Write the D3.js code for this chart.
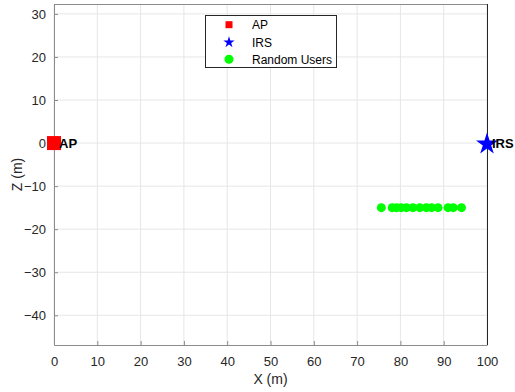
<!DOCTYPE html>
<html>
<head>
<meta charset="utf-8">
<script src="https://cdn.jsdelivr.net/npm/d3@7"></script>
<style>
  body { margin: 0; background: #fff; }
  svg { display: block; font-family: "Liberation Sans", Arial, sans-serif; }
</style>
</head>
<body>
<svg id="chart" width="515" height="392"></svg>
<script>
// Access point and intelligent reflecting surface positions (X, Z in metres)
const apPos = [0, 0];
const irsPos = [100, 0];
// Random user positions along the X axis, all at Z = -15 m
const userX = [75.6, 78.1, 79.1, 80.2, 81.4, 82.9, 84.5, 86.0, 87.2, 88.7, 91.0, 92.2, 94.1];
const userZ = [-15, -15, -15, -15, -15, -15, -15, -15, -15, -15, -15, -15, -15];
const xTicks = [0, 10, 20, 30, 40, 50, 60, 70, 80, 90, 100];
const zTicks = [-40, -30, -20, -10, 0, 10, 20, 30];
const xDomain = [0, 100];
const zDomain = [-46.9, 32.3];
const legendItems = ["AP", "IRS", "Random Users"];

const svg = d3.select("#chart");
const mLeft = 54, mRight = 487, mTop = 4, mBottom = 345;

const x = d3.scaleLinear().domain(xDomain).range([mLeft, mRight]);
const y = d3.scaleLinear().domain(zDomain).range([mBottom, mTop]);

const axisColor = "#262626";
const grid = svg.append("g");
grid.selectAll("line.gx").data(xTicks).join("line")
  .attr("x1", d => x(d)).attr("x2", d => x(d))
  .attr("y1", mTop).attr("y2", mBottom)
  .attr("stroke", "#e6e6e6").attr("stroke-width", 1);
grid.selectAll("line.gy").data(zTicks).join("line")
  .attr("x1", mLeft).attr("x2", mRight)
  .attr("y1", d => y(d)).attr("y2", d => y(d))
  .attr("stroke", "#e6e6e6").attr("stroke-width", 1);

// Axes with inward ticks
const xAxis = svg.append("g").attr("transform", `translate(0,${mBottom})`)
  .call(d3.axisBottom(x).tickValues(xTicks).tickSizeInner(-4).tickSizeOuter(0).tickPadding(12));
const yAxis = svg.append("g").attr("transform", `translate(${mLeft},0)`)
  .call(d3.axisLeft(y).tickValues(zTicks).tickSizeInner(-4).tickSizeOuter(0).tickPadding(8));
[xAxis, yAxis].forEach(a => {
  a.select(".domain").attr("stroke", "#8c8c8c");
  a.selectAll(".tick line").attr("stroke", "#8c8c8c");
  a.selectAll(".tick text").attr("fill", axisColor).attr("font-size", 13)
    .attr("font-family", "Liberation Sans, Arial, sans-serif");
});

// Top and right frame lines
svg.append("line").attr("x1", mLeft).attr("x2", mRight).attr("y1", mTop + 0.5).attr("y2", mTop + 0.5)
  .attr("stroke", "#8c8c8c");
svg.append("line").attr("x1", mRight + 0.5).attr("x2", mRight + 0.5).attr("y1", mTop).attr("y2", mBottom)
  .attr("stroke", "#262626");

// Axis labels
svg.append("text").attr("x", (mLeft + mRight) / 2).attr("y", 384)
  .attr("text-anchor", "middle").attr("font-size", 14).attr("fill", axisColor).text("X (m)");
svg.append("text").attr("transform", `translate(22,${(mTop + mBottom) / 2}) rotate(-90)`)
  .attr("text-anchor", "middle").attr("font-size", 14).attr("fill", axisColor).text("Z (m)");

// Random users
svg.append("g").selectAll("circle").data(userX.map((d, i) => [d, userZ[i]])).join("circle")
  .attr("cx", d => x(d[0])).attr("cy", d => y(d[1])).attr("r", 4.5)
  .attr("fill", "#00ff00");

// AP marker and label
const sq = 14;
svg.append("rect").attr("x", x(apPos[0]) - sq / 2).attr("y", y(apPos[1]) - sq / 2)
  .attr("width", sq).attr("height", sq).attr("fill", "#ff0000");
svg.append("text").attr("x", x(apPos[0]) + 5).attr("y", y(apPos[1]) + 5)
  .attr("font-size", 13).attr("font-weight", "bold").attr("fill", "#000").text("AP");

// IRS marker and label
const star = d3.symbol().type(d3.symbolStar).size(150);
svg.append("path").attr("d", star())
  .attr("transform", `translate(${x(irsPos[0])},${y(irsPos[1]) + 1})`).attr("fill", "#0000ff");
svg.append("text").attr("x", x(irsPos[0]) + 5).attr("y", y(irsPos[1]) + 5)
  .attr("font-size", 13).attr("font-weight", "bold").attr("fill", "#000").text("IRS");

// Legend
const lg = svg.append("g");
lg.append("rect").attr("x", 205.5).attr("y", 15.5).attr("width", 131).attr("height", 52)
  .attr("fill", "#fff").attr("stroke", "#262626").attr("stroke-width", 1);
const rows = [24.7, 42.3, 59.3];
lg.append("rect").attr("x", 229 - 3.5).attr("y", rows[0] - 3.5).attr("width", 7).attr("height", 7)
  .attr("fill", "#ff0000");
lg.append("path").attr("d", d3.symbol().type(d3.symbolStar).size(40)())
  .attr("transform", `translate(229,${rows[1]})`).attr("fill", "#0000ff");
lg.append("circle").attr("cx", 229).attr("cy", rows[2]).attr("r", 4.5).attr("fill", "#00ff00");
lg.selectAll("text").data(legendItems).join("text")
  .attr("x", 252).attr("y", (d, i) => rows[i] + 4.5)
  .attr("font-size", 12).attr("fill", "#000").text(d => d);
</script>
</body>
</html>
